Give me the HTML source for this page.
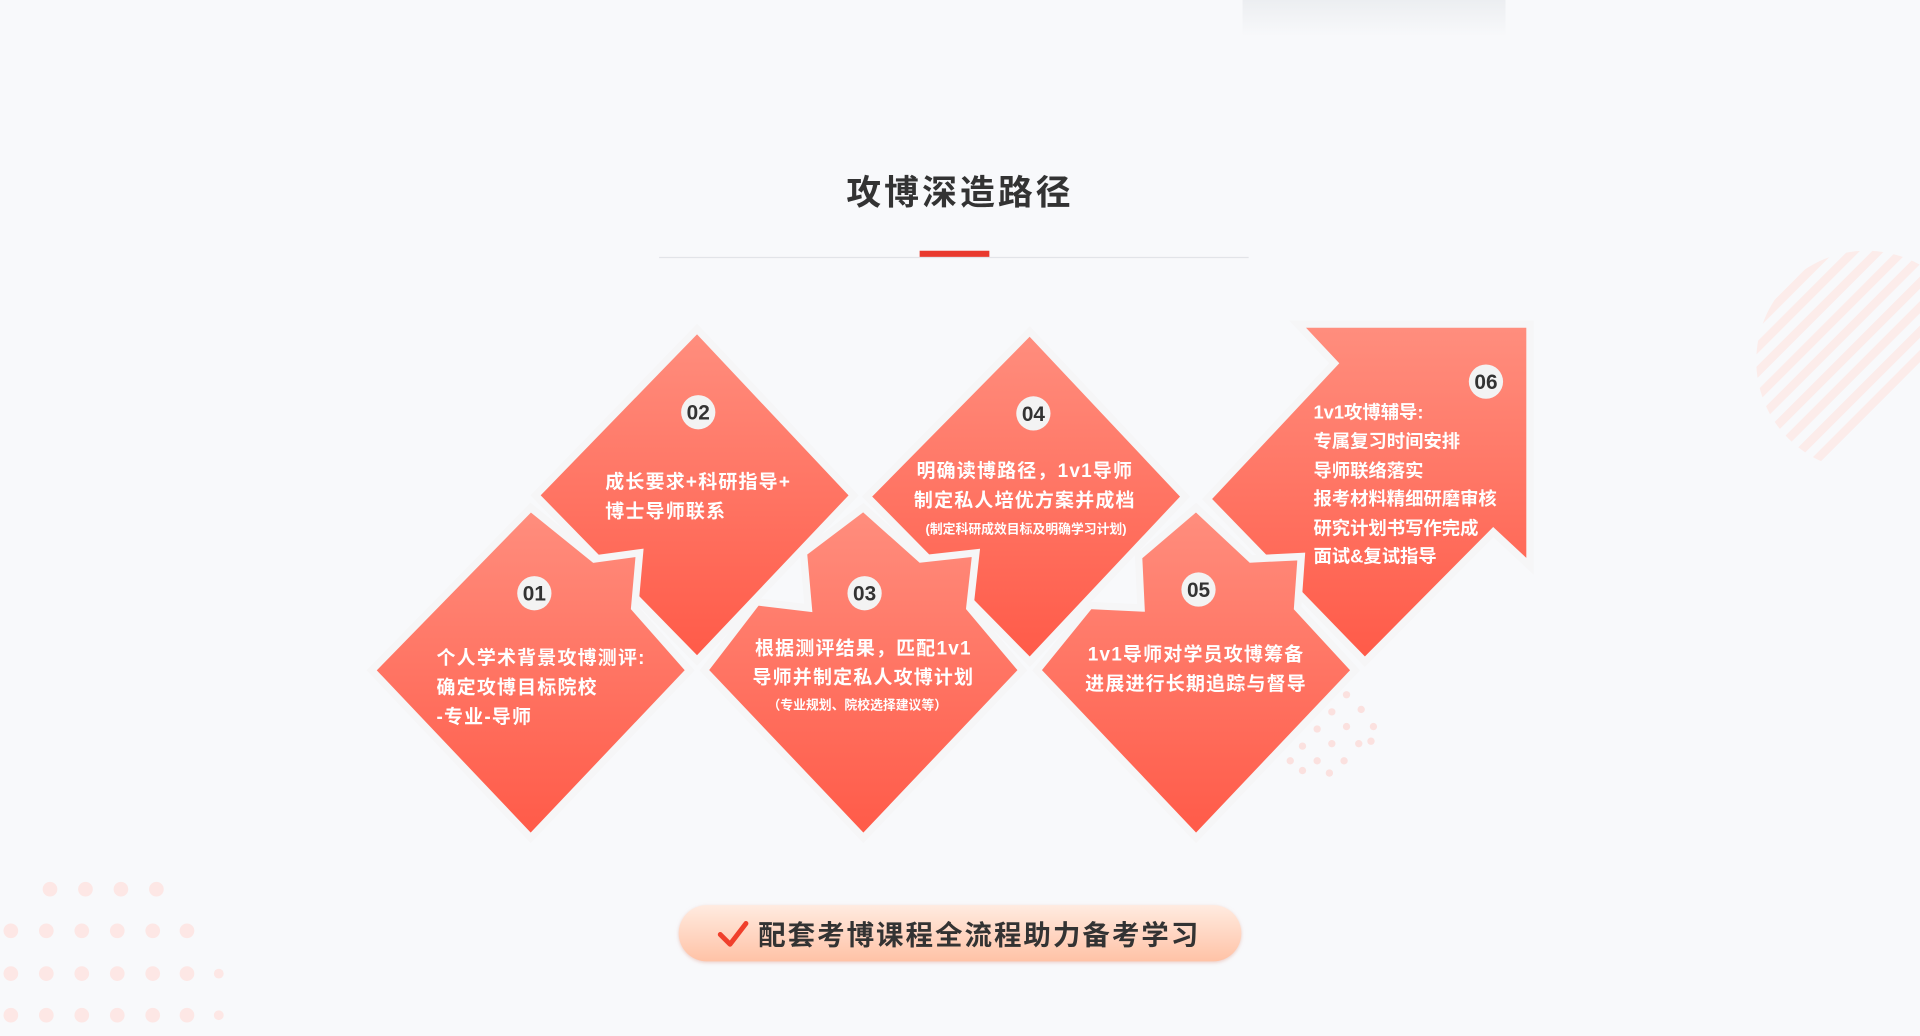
<!DOCTYPE html>
<html><head><meta charset="utf-8"><style>
html,body{margin:0;padding:0;background:#f8f9fb;}
svg{display:block;}
text{font-family:"Liberation Sans","Noto Sans CJK SC",sans-serif;}
</style></head><body>
<svg width="1920" height="1036" viewBox="0 0 1568 847" xmlns="http://www.w3.org/2000/svg">
<defs>
<linearGradient id="g" x1="0" y1="0" x2="0" y2="1">
<stop offset="0" stop-color="#ff8e7e"/><stop offset="1" stop-color="#ff5a48"/></linearGradient>
<linearGradient id="b" x1="0" y1="0" x2="0" y2="1">
<stop offset="0" stop-color="#ffebe0"/><stop offset="1" stop-color="#ffc2a6"/></linearGradient>
<linearGradient id="top" x1="0" y1="0" x2="0" y2="1">
<stop offset="0" stop-color="#eceef1"/><stop offset="1" stop-color="#f8f9fb"/></linearGradient>
<clipPath id="circ"><circle cx="1525" cy="295" r="90"/></clipPath>
<filter id="sh" x="-10%" y="-30%" width="120%" height="160%"><feDropShadow dx="0" dy="1" stdDeviation="1.5" flood-color="#e0a090" flood-opacity="0.5"/></filter>
</defs>
<rect width="1568" height="847" fill="#f8f9fb"/>
<rect x="1015" y="0" width="215" height="30" fill="url(#top)"/>
<g clip-path="url(#circ)" stroke="#fcecea" stroke-width="7">
<line x1="1400" y1="300" x2="1560" y2="140"/><line x1="1400" y1="320" x2="1580" y2="140"/>
<line x1="1400" y1="340" x2="1600" y2="140"/><line x1="1400" y1="360" x2="1620" y2="140"/>
<line x1="1400" y1="380" x2="1640" y2="140"/><line x1="1400" y1="400" x2="1660" y2="140"/>
<line x1="1400" y1="420" x2="1680" y2="140"/><line x1="1400" y1="440" x2="1700" y2="140"/>
<line x1="1400" y1="460" x2="1720" y2="140"/><line x1="1400" y1="280" x2="1540" y2="140"/>
<line x1="1400" y1="260" x2="1520" y2="140"/><line x1="1400" y1="240" x2="1500" y2="140"/>
</g>
<g fill="#fde7e5">
<circle cx="40" cy="727" r="6"/><circle cx="69" cy="727" r="6"/><circle cx="98" cy="727" r="6"/><circle cx="127" cy="727" r="6"/>
<circle cx="8" cy="761" r="6"/><circle cx="37" cy="761" r="6"/><circle cx="66" cy="761" r="6"/><circle cx="95" cy="761" r="6"/><circle cx="124" cy="761" r="6"/><circle cx="152" cy="761" r="6"/>
<circle cx="8" cy="796" r="6"/><circle cx="37" cy="796" r="6"/><circle cx="66" cy="796" r="6"/><circle cx="95" cy="796" r="6"/><circle cx="124" cy="796" r="6"/><circle cx="152" cy="796" r="6"/><circle cx="178" cy="796" r="4"/>
<circle cx="8" cy="830" r="6"/><circle cx="37" cy="830" r="6"/><circle cx="66" cy="830" r="6"/><circle cx="95" cy="830" r="6"/><circle cx="124" cy="830" r="6"/><circle cx="152" cy="830" r="6"/><circle cx="178" cy="830" r="4"/>
</g>
<g fill="#fbe1df">
<circle cx="1100" cy="568" r="3"/><circle cx="1112" cy="580" r="3"/><circle cx="1088" cy="582" r="3"/><circle cx="1100" cy="594" r="3"/><circle cx="1122" cy="594" r="3"/>
<circle cx="1076" cy="596" r="3"/><circle cx="1088" cy="608" r="3"/><circle cx="1110" cy="608" r="3"/><circle cx="1064" cy="610" r="3"/><circle cx="1076" cy="622" r="3"/>
<circle cx="1098" cy="622" r="3"/><circle cx="1120" cy="606" r="3"/><circle cx="1086" cy="632" r="3"/><circle cx="1054" cy="622" r="3"/><circle cx="1064" cy="630" r="3"/>
</g>
<text x="784" y="167" text-anchor="middle" font-size="28.5" font-weight="bold" fill="#333" letter-spacing="2.5">攻博深造路径</text>
<line x1="538" y1="210.5" x2="1020" y2="210.5" stroke="#e2e4e8" stroke-width="1"/>
<rect x="751" y="205" width="57" height="5" fill="#e93a2e"/>
<g fill="url(#g)" stroke="#f6f6f7" stroke-width="6" stroke-linejoin="miter">
<polygon points="569,269 697,405 569,540 437,405"/>
<polygon points="841,271 968,406 841,541 708,406"/>
<polygon points="1060,265 1250,265 1250,463 1220,435 1115,541 986,408 1090,297"/>
<polygon points="433,415 485,457 522,452 518,497 563,548 433,685 303,548"/>
<polygon points="705,415 752,457 797,452 792,497 835,548 705,685 575,548 618,492 660,497 656,452"/>
<polygon points="977,415 1022,457 1063,455 1060,497 1107,548 977,685 847,548 890,495 932,497 930,455"/>
</g>
<g fill="#f3f3f3">
<circle cx="436" cy="485" r="14"/><circle cx="570" cy="337" r="14"/><circle cx="706" cy="485" r="14"/>
<circle cx="844" cy="338" r="14"/><circle cx="979" cy="482" r="14"/><circle cx="1214" cy="312" r="14"/>
</g>
<g font-size="17" font-weight="bold" fill="#333" text-anchor="middle">
<text x="436" y="491">01</text><text x="570" y="343">02</text><text x="706" y="491">03</text>
<text x="844" y="344">04</text><text x="979" y="488">05</text><text x="1214" y="318">06</text>
</g>
<g font-size="15.5" font-weight="bold" fill="#fff" letter-spacing="1">
<text x="356" y="543">个人学术背景攻博测评:</text>
<text x="356" y="567">确定攻博目标院校</text>
<text x="356" y="591">-专业-导师</text>
<text x="494" y="399">成长要求+科研指导+</text>
<text x="494" y="423">博士导师联系</text>
<text x="705" y="535" text-anchor="middle">根据测评结果，匹配1v1</text>
<text x="705" y="559" text-anchor="middle">导师并制定私人攻博计划</text>
<text x="837" y="390" text-anchor="middle">明确读博路径，1v1导师</text>
<text x="837" y="414" text-anchor="middle">制定私人培优方案并成档</text>
<text x="977" y="540" text-anchor="middle">1v1导师对学员攻博筹备</text>
<text x="977" y="564" text-anchor="middle">进展进行长期追踪与督导</text>
</g>
<g font-size="15" font-weight="bold" fill="#fff">
<text x="1073" y="342">1v1攻博辅导:</text>
<text x="1073" y="366">专属复习时间安排</text>
<text x="1073" y="390">导师联络落实</text>
<text x="1073" y="413">报考材料精细研磨审核</text>
<text x="1073" y="437">研究计划书写作完成</text>
<text x="1073" y="460">面试&amp;复试指导</text>
</g>
<g font-size="10.5" font-weight="bold" fill="#fff" text-anchor="middle">
<text x="700" y="580">（专业规划、院校选择建议等）</text>
<text x="838" y="436">(制定科研成效目标及明确学习计划)</text>
</g>
<rect x="554" y="740" width="460" height="46" rx="23" fill="url(#b)" filter="url(#sh)"/>
<path d="M588,764 L596,772 L609,755" fill="none" stroke="#f0402c" stroke-width="4" stroke-linecap="round" stroke-linejoin="round"/>
<text x="619" y="772" font-size="22.5" font-weight="bold" fill="#333" letter-spacing="1.6">配套考博课程全流程助力备考学习</text>
</svg>
</body></html>
